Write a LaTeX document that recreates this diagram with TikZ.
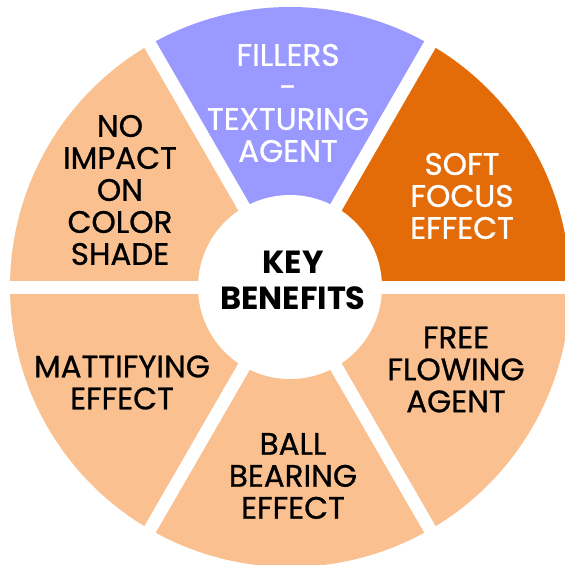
\documentclass[tikz,border=0pt]{standalone}
\usepackage{fontspec}
\setmainfont{Poppins}
\newfontfamily\lblfont{Poppins}[FakeBold=0.8]
\definecolor{peach}{HTML}{FAC090}
\definecolor{lav}{HTML}{9999FF}
\definecolor{burnt}{HTML}{E36C09}
\begin{document}
\begin{tikzpicture}[x=1pt,y=1pt,
  lbl/.style={align=center, font=\lblfont\fontsize{31}{32}\selectfont, inner sep=0pt},
  gap/.style={white, line width=13pt}]
\useasboundingbox (-290,-278) rectangle (275,287);
\clip (-290,-278) rectangle (275,287);
\fill[white] (-290,-278) rectangle (275,287);
% sectors
\fill[burnt] (0,0) -- (0:280) arc[start angle=0,end angle=60,radius=280] -- cycle;
\fill[lav] (0,0) -- (60:280) arc[start angle=60,end angle=120,radius=280] -- cycle;
\foreach \a in {120,180,240,300}
  \fill[peach] (0,0) -- (\a:280) arc[start angle=\a,end angle=\a+60,radius=280] -- cycle;
% gaps
\foreach \a in {0,60,...,300}
  \draw[gap] (0,0) -- (\a:300);
\fill[white] (0,0) circle (92);
% labels
\node[lbl, text=white] (fill) at (-2,184) {FILLERS\\-\\TEXTURING\\AGENT};
\node[lbl, text=white] (soft) at (172,91) {SOFT\\FOCUS\\EFFECT};
\node[lbl] (noimp) at (-170,97) {NO\\IMPACT\\ON\\COLOR\\SHADE};
\node[lbl, font=\fontsize{32}{36}\selectfont\bfseries] (key) at (3,7) {KEY\\BENEFITS};
\node[lbl] (matt) at (-168,-95.5) {MATTIFYING\\EFFECT};
\node[lbl] (ball) at (3,-189) {BALL\\BEARING\\EFFECT};
\node[lbl] (free) at (166,-82.5) {FREE\\FLOWING\\AGENT};
\end{tikzpicture}
\end{document}
